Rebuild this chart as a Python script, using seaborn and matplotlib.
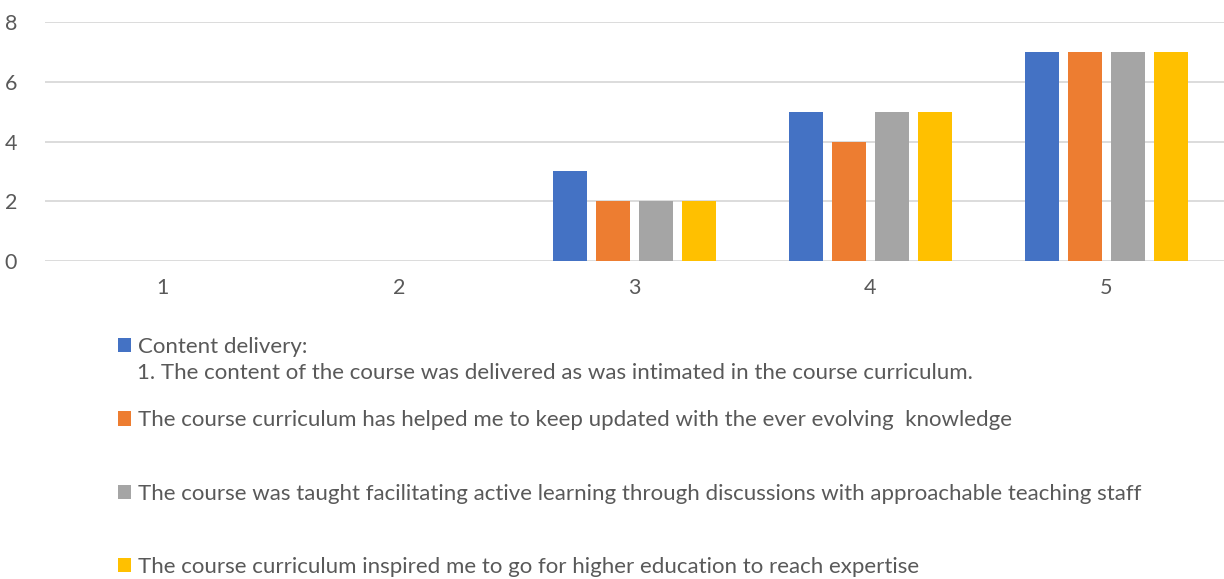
import pandas as pd
import seaborn as sns
import matplotlib.pyplot as plt

ratings = ['1', '2', '3', '4', '5']
series = [
    'Content delivery:',
    'The course curriculum has helped me to keep updated with the ever evolving  knowledge',
    'The course was taught facilitating active learning through discussions with approachable teaching staff',
    'The course curriculum inspired me to go for higher education to reach expertise',
]
second_line = '1. The content of the course was delivered as was intimated in the course curriculum.'

content_delivery = [0, 0, 3, 5, 7]
kept_updated = [0, 0, 2, 4, 7]
active_learning = [0, 0, 2, 5, 7]
higher_education = [0, 0, 2, 5, 7]

colors = ['#4472C4', '#ED7D31', '#A5A5A5', '#FFC000']

df = pd.DataFrame({
    'rating': ratings * 4,
    'series': [s for s in series for _ in ratings],
    'count': content_delivery + kept_updated + active_learning + higher_education,
})

sns.set_style('white')
plt.rcParams['font.family'] = ['Lato', 'DejaVu Sans']
text_col = '#595959'

fig = plt.figure(figsize=(12.24, 5.79), dpi=100)
ax = fig.add_axes([45 / 1224, 1 - 261 / 579, 1179 / 1224, 239 / 579])

g = sns.barplot(data=df, x='rating', y='count', hue='series',
                palette=colors, width=0.73, gap=0.21, ax=ax,
                saturation=1, linewidth=0, legend=True)

g.set_ylim(0, 8)
g.set_yticks([0, 2, 4, 6, 8])
g.yaxis.grid(True, color='#D9D9D9', linewidth=1.3)
g.set_axisbelow(True)
for s in g.spines.values():
    s.set_visible(False)
g.set_xlabel(None)
g.set_ylabel(None)
g.tick_params(axis='both', length=0, labelsize=15.5, labelcolor=text_col)
g.tick_params(axis='y', pad=20)
g.tick_params(axis='x', pad=12)

handles, labels = g.get_legend_handles_labels()
g.get_legend().remove()
leg = fig.legend(handles, labels, loc='upper left',
                 bbox_to_anchor=(98 / 1224, 1 - 317 / 579),
                 frameon=False, fontsize=16, labelcolor=text_col,
                 handlelength=0.6, handleheight=0.6, handletextpad=0.3,
                 labelspacing=2.4)
fig.text(137 / 1224, 1 - 373 / 579, second_line, fontsize=16,
         color=text_col, va='center', ha='left')

plt.savefig('out.png', dpi=100)
